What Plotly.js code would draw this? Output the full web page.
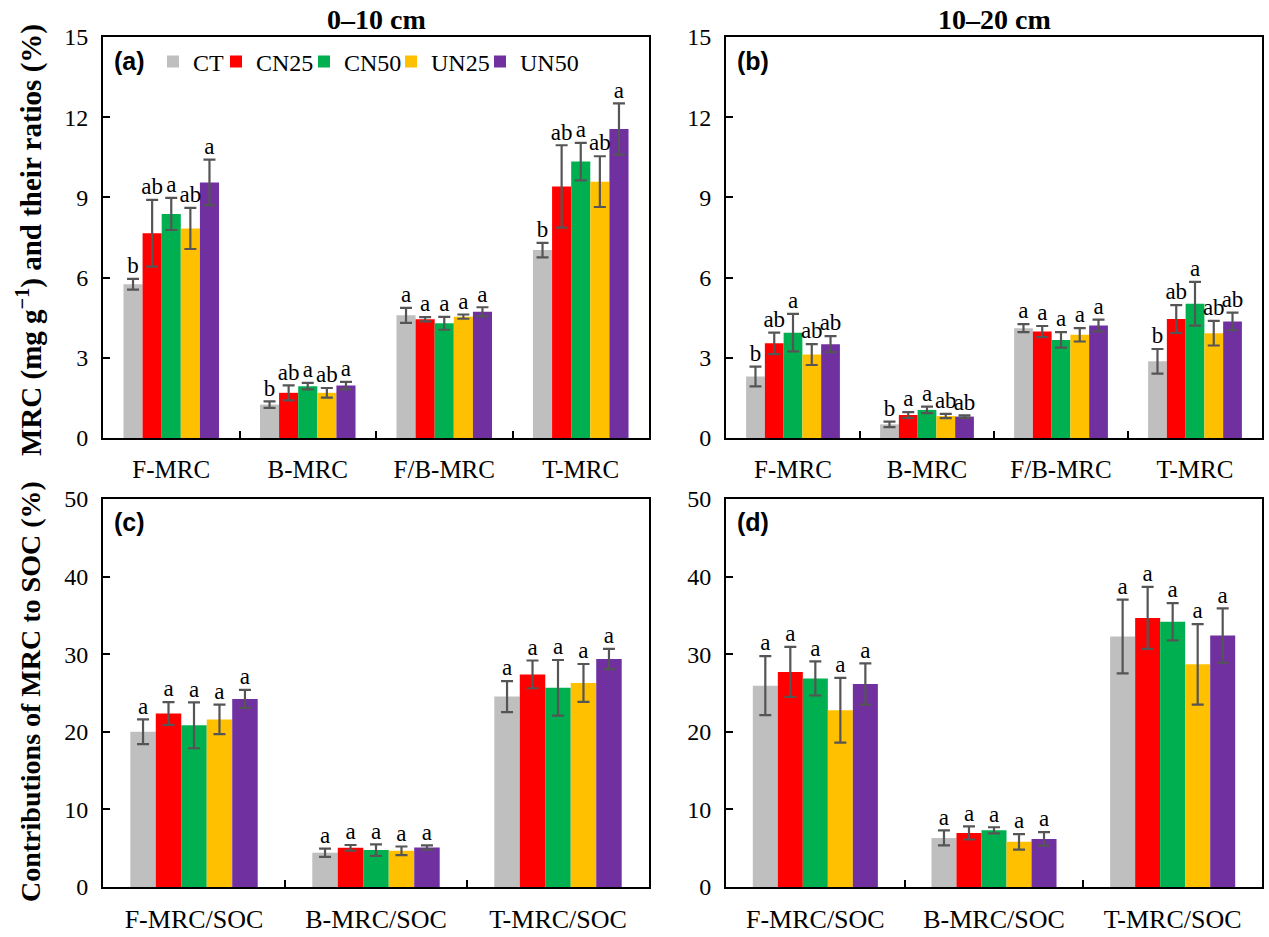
<!DOCTYPE html>
<html>
<head>
<meta charset="utf-8">
<script src="https://cdn.plot.ly/plotly-3.0.1.min.js"></script>
<style>html,body{margin:0;padding:0;background:#fff}#chart{width:1269px;height:937px}</style>
</head>
<body>
<div id="chart"></div>
<script>
// ---------- data ----------
const series = ['CT', 'CN25', 'CN50', 'UN25', 'UN50'];
const catsTop = ['F-MRC', 'B-MRC', 'F/B-MRC', 'T-MRC'];
const catsBottom = ['F-MRC/SOC', 'B-MRC/SOC', 'T-MRC/SOC'];

// (a) 0–10 cm, rows = series, columns = catsTop
const meanA = [
  [5.75, 1.25, 4.59, 7.03],
  [7.66, 1.69, 4.44, 9.41],
  [8.38, 1.94, 4.29, 10.34],
  [7.84, 1.69, 4.54, 9.59],
  [9.56, 1.96, 4.72, 11.56]
];
const errA = [
  [0.20, 0.12, 0.28, 0.27],
  [1.25, 0.28, 0.08, 1.54],
  [0.60, 0.12, 0.24, 0.70],
  [0.77, 0.18, 0.08, 0.95],
  [0.85, 0.14, 0.17, 0.96]
];
const letA = [
  ['b', 'b', 'a', 'b'],
  ['ab', 'ab', 'a', 'ab'],
  ['a', 'a', 'a', 'a'],
  ['ab', 'ab', 'a', 'ab'],
  ['a', 'a', 'a', 'a']
];

// (b) 10–20 cm
const meanB = [
  [2.30, 0.51, 4.11, 2.87],
  [3.54, 0.86, 3.98, 4.45],
  [3.94, 1.05, 3.67, 5.02],
  [3.12, 0.82, 3.86, 3.92],
  [3.51, 0.80, 4.21, 4.36]
];
const errB = [
  [0.37, 0.10, 0.15, 0.46],
  [0.40, 0.11, 0.21, 0.52],
  [0.70, 0.12, 0.29, 0.82],
  [0.39, 0.08, 0.25, 0.46],
  [0.30, 0.05, 0.22, 0.33]
];
const letB = [
  ['b', 'b', 'a', 'b'],
  ['ab', 'a', 'a', 'ab'],
  ['a', 'a', 'a', 'a'],
  ['ab', 'ab', 'a', 'ab'],
  ['ab', 'ab', 'a', 'ab']
];

// (c) 0–10 cm contributions
const meanC = [
  [20.00, 4.42, 24.54],
  [22.35, 5.05, 27.40],
  [20.83, 4.76, 25.67],
  [21.60, 4.67, 26.30],
  [24.24, 5.09, 29.38]
];
const errC = [
  [1.60, 0.53, 2.00],
  [1.47, 0.36, 1.79],
  [2.95, 0.74, 3.58],
  [1.90, 0.55, 2.44],
  [1.16, 0.27, 1.31]
];
const letC = [
  ['a', 'a', 'a'], ['a', 'a', 'a'], ['a', 'a', 'a'], ['a', 'a', 'a'], ['a', 'a', 'a']
];

// (d) 10–20 cm contributions
const meanD = [
  [25.95, 6.33, 32.28],
  [27.72, 6.96, 34.68],
  [26.88, 7.30, 34.18],
  [22.78, 5.82, 28.69],
  [26.16, 6.20, 32.40]
];
const errD = [
  [3.80, 0.97, 4.75],
  [3.23, 0.84, 4.00],
  [2.20, 0.40, 2.40],
  [4.18, 1.00, 5.19],
  [2.66, 0.87, 3.50]
];
const letD = [
  ['a', 'a', 'a'], ['a', 'a', 'a'], ['a', 'a', 'a'], ['a', 'a', 'a'], ['a', 'a', 'a']
];

// ---------- styles ----------
const colors = ['#BFBFBF', '#FF0000', '#00B050', '#FFC000', '#7030A0'];
const SERIF = 'Liberation Serif';
const SANS = 'Liberation Sans';
const W = 1269, H = 937;
const legendIds = ['legend', 'legend2', 'legend3', 'legend4', 'legend5'];
const legendLeft = [153, 216, 304, 391, 480];

const traces = [];
function addPanel(cats, means, errs, lets, xa, ya, showLegend) {
  series.forEach((s, i) => {
    traces.push({
      type: 'bar', name: s, x: cats, y: means[i],
      xaxis: xa, yaxis: ya, offsetgroup: s, legendgroup: s, legend: legendIds[i],
      showlegend: showLegend,
      marker: {color: colors[i], line: {width: 0}},
      error_y: {type: 'data', array: errs[i], visible: true, color: '#555555', thickness: 2.2, width: 6},
      hoverinfo: 'x+y'
    });
  });
  series.forEach((s, i) => {
    traces.push({
      type: 'scatter', mode: 'text', x: cats,
      y: means[i].map((m, j) => m + errs[i][j]),
      text: lets[i], textposition: 'top center',
      textfont: {family: SERIF, size: 23, color: '#000'},
      xaxis: xa, yaxis: ya, offsetgroup: s, showlegend: false,
      hoverinfo: 'skip', cliponaxis: false
    });
  });
}
addPanel(catsTop, meanA, errA, letA, 'x', 'y', true);
addPanel(catsTop, meanB, errB, letB, 'x2', 'y2', false);
addPanel(catsBottom, meanC, errC, letC, 'x3', 'y3', false);
addPanel(catsBottom, meanD, errD, letD, 'x4', 'y4', false);

const colL = [103 / W, 649 / W], colR = [726 / W, 1262 / W];
const rowT = [1 - 438 / H, 1 - 37 / H], rowB = [1 - 887 / H, 1 - 499 / H];

function xax(dom, anchor, fs) {
  return {
    domain: dom, anchor: anchor, type: 'category',
    showline: true, mirror: true, linecolor: '#000', linewidth: 2,
    ticks: 'inside', tickson: 'boundaries', ticklen: 7, tickwidth: 2, tickcolor: '#000',
    showgrid: false, zeroline: false, ticklabelstandoff: 8,
    tickfont: {family: SERIF, size: fs, color: '#000'}, fixedrange: true
  };
}
function yax(dom, anchor, max, dt) {
  return {
    domain: dom, anchor: anchor, range: [0, max], dtick: dt, tick0: 0,
    showline: true, mirror: true, linecolor: '#000', linewidth: 2,
    ticks: 'inside', ticklen: 7, tickwidth: 2, tickcolor: '#000',
    showgrid: false, zeroline: false, ticklabelstandoff: 8,
    tickfont: {family: SERIF, size: 24, color: '#000'}, fixedrange: true
  };
}

const panelLabel = (t, xr, yr) => ({
  text: '<b>' + t + '</b>', xref: xr + ' domain', yref: yr + ' domain',
  x: 0.017, y: 0.94, xanchor: 'left', yanchor: 'middle', showarrow: false,
  font: {family: SANS, size: 25, color: '#000'}
});

const layout = {
  width: W, height: H,
  margin: {l: 0, r: 0, t: 0, b: 0},
  paper_bgcolor: '#fff', plot_bgcolor: '#fff',
  font: {family: SERIF, color: '#000'},
  barmode: 'group', bargap: 0.3, bargroupgap: 0,
  scattermode: 'group', scattergap: 0.3,
  xaxis: xax(colL, 'y', 25), yaxis: yax(rowT, 'x', 15, 3),
  xaxis2: xax(colR, 'y2', 25), yaxis2: yax(rowT, 'x2', 15, 3),
  xaxis3: xax(colL, 'y3', 26), yaxis3: yax(rowB, 'x3', 50, 10),
  xaxis4: xax(colR, 'y4', 26), yaxis4: yax(rowB, 'x4', 50, 10),
  showlegend: true,
  annotations: [
    {text: '<b>0–10 cm</b>', xref: 'paper', yref: 'paper', x: 376 / W, y: 1 - 20 / H,
     showarrow: false, xanchor: 'center', yanchor: 'middle', font: {family: SERIF, size: 28, color: '#000'}},
    {text: '<b>10–20 cm</b>', xref: 'paper', yref: 'paper', x: 994 / W, y: 1 - 20 / H,
     showarrow: false, xanchor: 'center', yanchor: 'middle', font: {family: SERIF, size: 28, color: '#000'}},
    {text: '<b>MRC (mg g<sup>−1</sup>) and their ratios (%)</b>', xref: 'paper', yref: 'paper',
     x: 30 / W, y: 1 - 240 / H, textangle: -90, showarrow: false, xanchor: 'center', yanchor: 'middle',
     font: {family: SERIF, size: 29, color: '#000'}},
    {text: '<b>Contributions of MRC to SOC (%)</b>', xref: 'paper', yref: 'paper',
     x: 30 / W, y: 1 - 692 / H, textangle: -90, showarrow: false, xanchor: 'center', yanchor: 'middle',
     font: {family: SERIF, size: 28, color: '#000'}},
    panelLabel('(a)', 'x', 'y'),
    panelLabel('(b)', 'x2', 'y2'),
    panelLabel('(c)', 'x3', 'y3'),
    panelLabel('(d)', 'x4', 'y4')
  ]
};
legendIds.forEach((id, i) => {
  layout[id] = {
    orientation: 'h', x: legendLeft[i] / W, y: 1 - 62 / H, xanchor: 'left', yanchor: 'middle',
    font: {family: SERIF, size: 24, color: '#000'}, bgcolor: 'rgba(0,0,0,0)',
    itemwidth: 30, borderwidth: 0
  };
});

Plotly.newPlot('chart', traces, layout, {displayModeBar: false, staticPlot: true});
</script>
</body>
</html>
